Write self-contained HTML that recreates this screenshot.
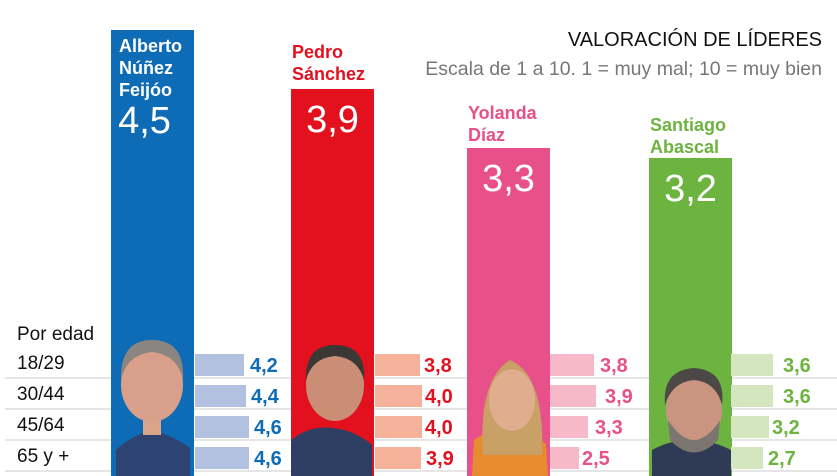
<!DOCTYPE html>
<html><head><meta charset="utf-8"><style>
*{margin:0;padding:0;box-sizing:border-box}
body{width:837px;height:476px;background:#fff;position:relative;overflow:hidden;font-family:"Liberation Sans",sans-serif}
.a{position:absolute}
.bar{position:absolute;bottom:0;width:83px}
.nm{position:absolute;font-weight:bold;font-size:18px;line-height:22px}
.big{position:absolute;color:#fff;font-size:38px;width:83px;text-align:center}
.sb{position:absolute;height:22px}
.v{position:absolute;font-weight:bold;font-size:20px;line-height:22px}
.ln{position:absolute;left:5px;width:832px;height:2px;background:#e6e6e6}
.age{position:absolute;left:17px;font-size:19px;color:#111}
</style></head><body>
<div class="a" style="right:15px;top:29px;font-size:20px;color:#111">VALORACIÓN DE LÍDERES</div>
<div class="a" style="right:15px;top:58px;font-size:19.5px;color:#777">Escala de 1 a 10. 1 = muy mal; 10 = muy bien</div>

<div class="ln" style="top:377px"></div>
<div class="ln" style="top:408px"></div>
<div class="ln" style="top:439px"></div>
<div class="ln" style="top:470px"></div>

<div class="age" style="top:324px">Por edad</div>
<div class="age" style="top:353px">18/29</div>
<div class="age" style="top:384px">30/44</div>
<div class="age" style="top:415px">45/64</div>
<div class="age" style="top:446px">65 y +</div>

<div class="bar" style="left:111px;top:30px;background:#0e6bb5"></div>
<div class="nm" style="left:119px;top:35px;color:#fff">Alberto<br>Núñez<br>Feijóo</div>
<div class="big" style="left:103px;top:100px">4,5</div>
<div class="bar" style="left:291px;top:89px;background:#e3101e"></div>
<div class="nm" style="left:292px;top:41px;color:#e3101e">Pedro<br>Sánchez</div>
<div class="big" style="left:291px;top:99px">3,9</div>
<div class="bar" style="left:467px;top:148px;background:#e8508a"></div>
<div class="nm" style="left:468px;top:102px;color:#e8508a">Yolanda<br>Díaz</div>
<div class="big" style="left:467px;top:158px">3,3</div>
<div class="bar" style="left:649px;top:158px;background:#6cb43f"></div>
<div class="nm" style="left:650px;top:114px;color:#6cb43f">Santiago<br>Abascal</div>
<div class="big" style="left:649px;top:168px">3,2</div>

<svg class="a" style="left:0;top:0" width="837" height="476">
 <g>
  <path d="M116 476 L116 450 Q130 436 152 430 Q174 436 190 448 L190 476Z" fill="#2d4473"/>
  <rect x="143" y="405" width="18" height="30" fill="#d9a48a"/>
  <ellipse cx="152" cy="385" rx="31" ry="37" fill="#d8a08a"/>
  <path d="M121 380 Q120 340 152 340 Q185 340 183 380 Q178 355 152 352 Q126 355 121 380Z" fill="#8a8580"/>
 </g>
 <g>
  <path d="M291 476 L291 440 Q310 425 332 428 Q355 430 372 445 L372 476Z" fill="#2f3f63"/>
  <ellipse cx="335" cy="385" rx="29" ry="36" fill="#c98e75"/>
  <path d="M306 380 Q305 345 335 345 Q366 345 364 380 Q358 358 335 356 Q312 358 306 380Z" fill="#3b3835"/>
 </g>
 <g>
  <path d="M472 476 L474 440 Q490 428 510 430 Q530 430 546 444 L548 476Z" fill="#e88a2e"/>
  <path d="M483 455 Q478 380 510 360 Q545 375 542 455Z" fill="#c9a066"/>
  <ellipse cx="512" cy="400" rx="23" ry="31" fill="#e0ad8e"/>
 </g>
 <g>
  <path d="M652 476 L652 450 Q670 440 690 440 Q712 440 731 450 L731 476Z" fill="#2f3b55"/>
  <ellipse cx="694" cy="410" rx="28" ry="36" fill="#c99580"/>
  <path d="M668 420 Q694 460 720 420 L718 440 Q694 465 670 440Z" fill="#7d7670"/>
  <path d="M665 405 Q662 370 694 368 Q726 370 722 405 Q716 382 694 380 Q672 382 665 405Z" fill="#4b4845"/>
 </g>
</svg>

<div class="sb" style="left:195px;top:354px;width:49px;background:#b3c1e0"></div>
<div class="sb" style="left:195px;top:385px;width:51px;background:#b3c1e0"></div>
<div class="sb" style="left:195px;top:416px;width:54px;background:#b3c1e0"></div>
<div class="sb" style="left:195px;top:447px;width:54px;background:#b3c1e0"></div>
<div class="v" style="left:250px;top:355px;color:#0e6bb5">4,2</div>
<div class="v" style="left:251px;top:386px;color:#0e6bb5">4,4</div>
<div class="v" style="left:254px;top:417px;color:#0e6bb5">4,6</div>
<div class="v" style="left:254px;top:448px;color:#0e6bb5">4,6</div>
<div class="sb" style="left:375px;top:354px;width:45px;background:#f5b199"></div>
<div class="sb" style="left:375px;top:385px;width:47px;background:#f5b199"></div>
<div class="sb" style="left:375px;top:416px;width:47px;background:#f5b199"></div>
<div class="sb" style="left:375px;top:447px;width:46px;background:#f5b199"></div>
<div class="v" style="left:424px;top:355px;color:#e3101e">3,8</div>
<div class="v" style="left:425px;top:386px;color:#e3101e">4,0</div>
<div class="v" style="left:425px;top:417px;color:#e3101e">4,0</div>
<div class="v" style="left:426px;top:448px;color:#e3101e">3,9</div>
<div class="sb" style="left:550px;top:354px;width:44px;background:#f7b9c8"></div>
<div class="sb" style="left:550px;top:385px;width:46px;background:#f7b9c8"></div>
<div class="sb" style="left:550px;top:416px;width:38px;background:#f7b9c8"></div>
<div class="sb" style="left:550px;top:447px;width:29px;background:#f7b9c8"></div>
<div class="v" style="left:600px;top:355px;color:#e8508a">3,8</div>
<div class="v" style="left:605px;top:386px;color:#e8508a">3,9</div>
<div class="v" style="left:595px;top:417px;color:#e8508a">3,3</div>
<div class="v" style="left:582px;top:448px;color:#e8508a">2,5</div>
<div class="sb" style="left:731px;top:354px;width:42px;background:#d4e6bd"></div>
<div class="sb" style="left:731px;top:385px;width:42px;background:#d4e6bd"></div>
<div class="sb" style="left:731px;top:416px;width:38px;background:#d4e6bd"></div>
<div class="sb" style="left:731px;top:447px;width:32px;background:#d4e6bd"></div>
<div class="v" style="left:783px;top:355px;color:#6cb43f">3,6</div>
<div class="v" style="left:783px;top:386px;color:#6cb43f">3,6</div>
<div class="v" style="left:772px;top:417px;color:#6cb43f">3,2</div>
<div class="v" style="left:768px;top:448px;color:#6cb43f">2,7</div>
</body></html>
